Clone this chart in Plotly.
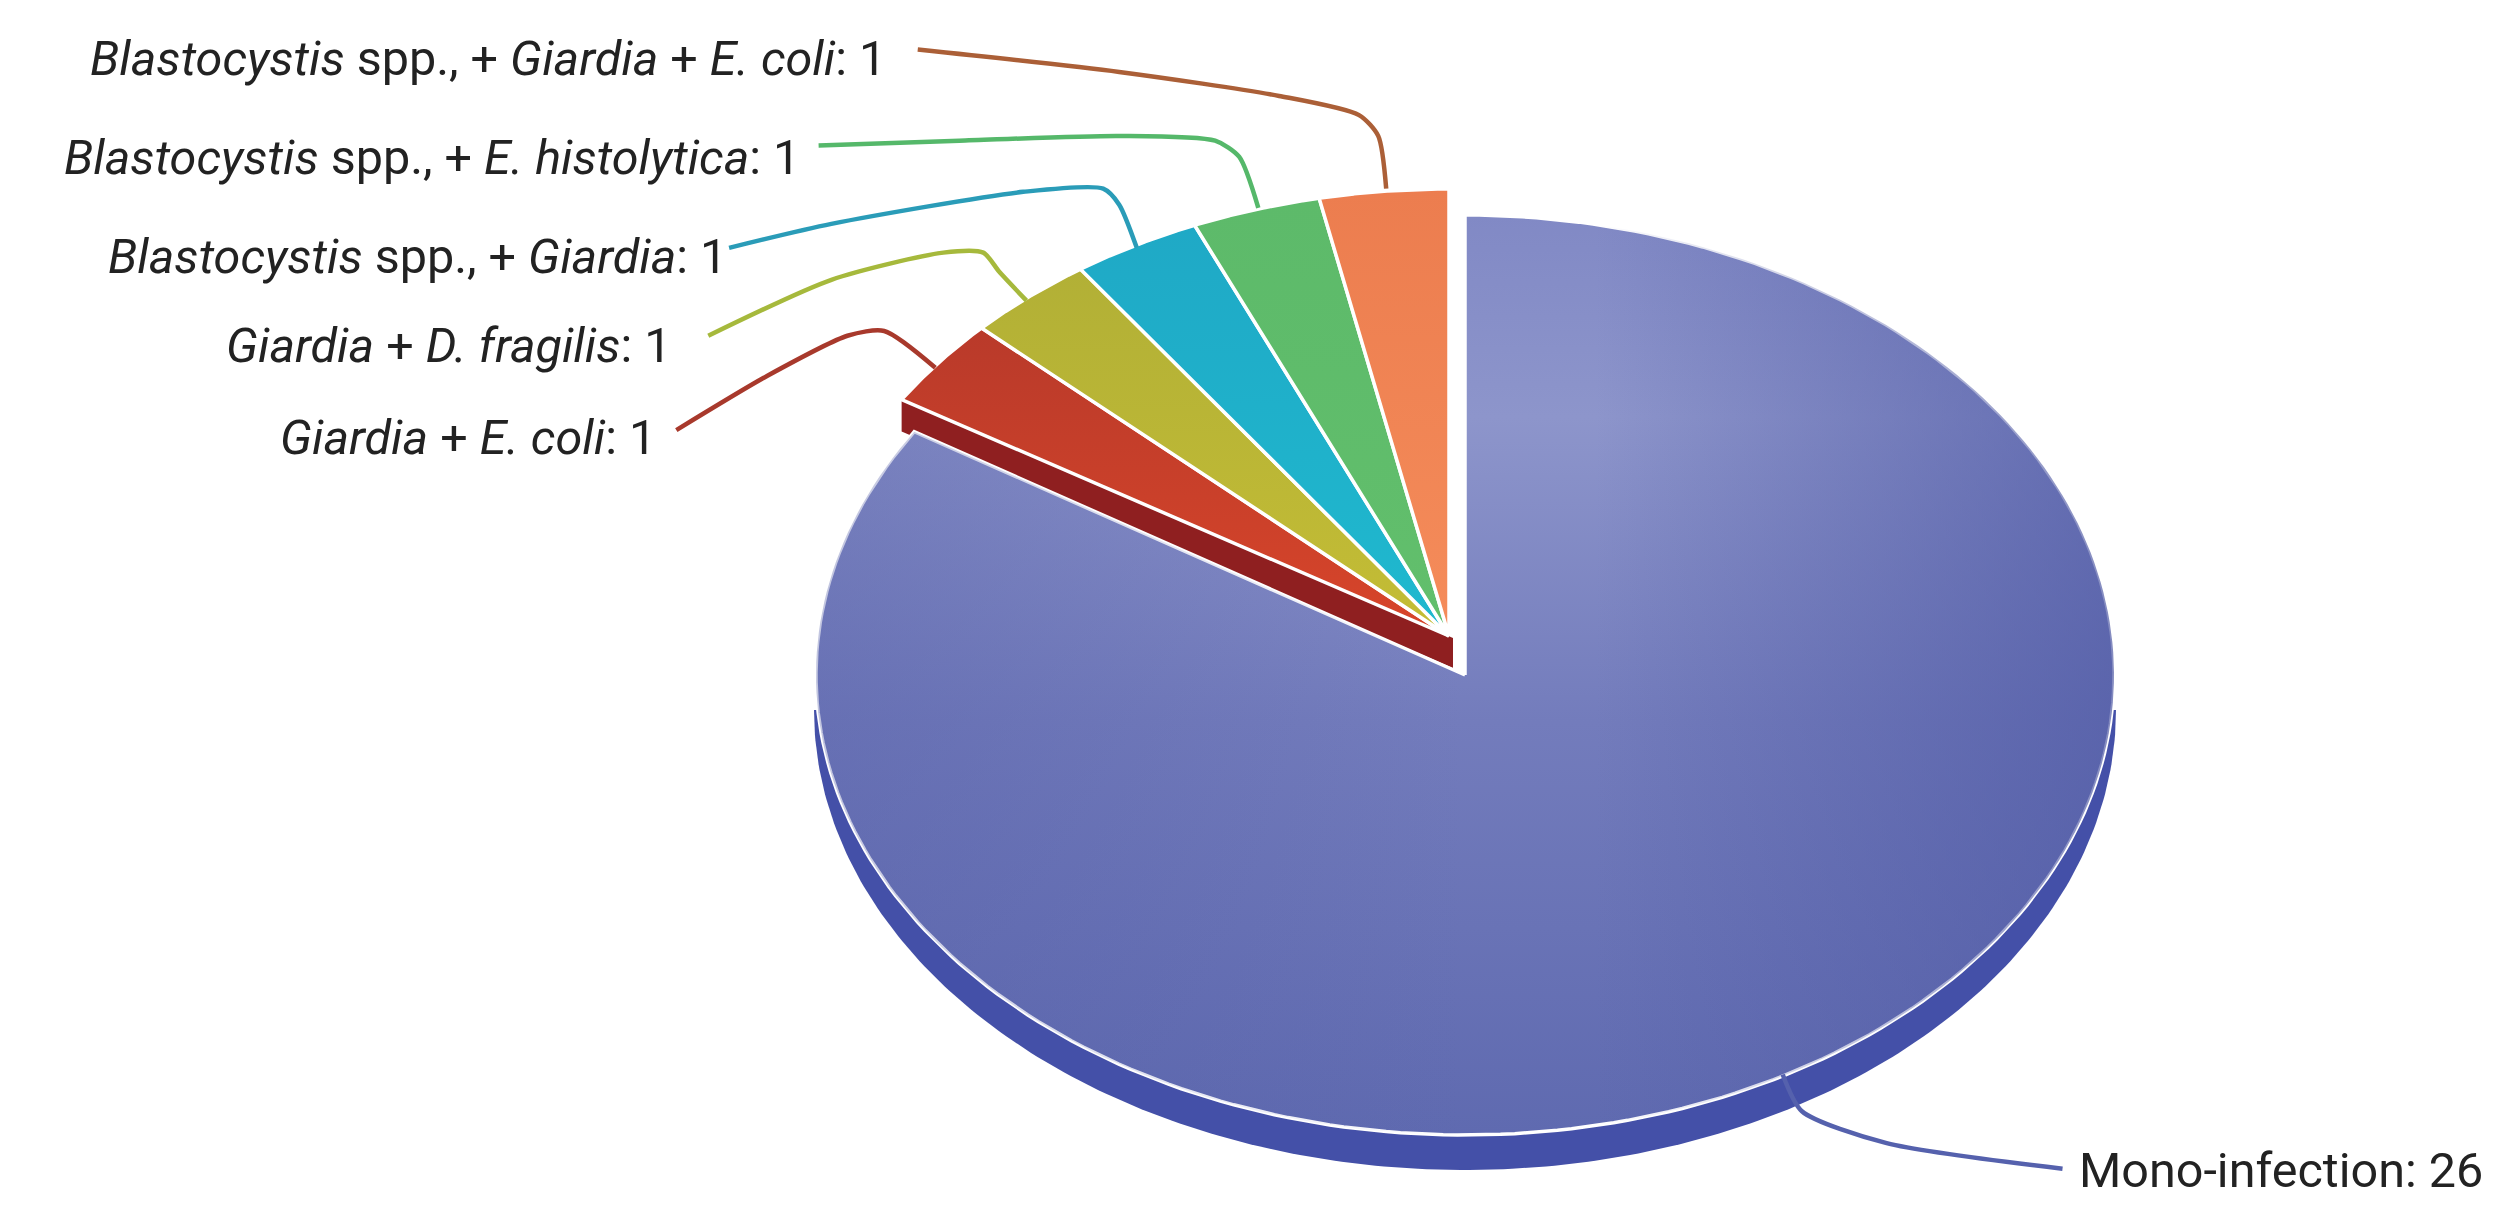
import numpy as np
import plotly.graph_objects as go

# ---- data
categories = ["Mono-infection", "Giardia + E. coli", "Giardia + D. fragilis",
              "Blastocystis spp., + Giardia", "Blastocystis spp., + E. histolytica",
              "Blastocystis spp., + Giardia + E. coli"]
values = [26, 1, 1, 1, 1, 1]
label_html = ["Mono-infection: 26",
              "<i>Giardia</i> + <i>E. coli</i>: 1",
              "<i>Giardia</i> + <i>D. fragilis</i>: 1",
              "<i>Blastocystis</i> spp., + <i>Giardia</i>: 1",
              "<i>Blastocystis</i> spp., + <i>E. histolytica</i>: 1",
              "<i>Blastocystis</i> spp., + <i>Giardia</i> + <i>E. coli</i>: 1"]
slice_top = ["#6f78bc", "#b93a2a", "#b2b036", "#1fa9c6", "#5dba6a", "#ec7d4f"]
slice_bot = ["#6f78bc", "#d8452a", "#c4bd35", "#1fb9cf", "#62bf6c", "#f58c5a"]
leader_col = ["#5561ad", "#a8392c", "#a6b93c", "#2a9cb8", "#55b86a", "#ab5f37"]

# ---- layout of the drawing (page pixels)
W, H = 2507, 1228
S = 2507 / 1568
main_c = (1465, 675); main_r = (649, 460)
rest_c = (1449, 636); rest_r = (645, 447)
rim_d = 35; wall_d = 32
label_pos = [(2079, 1170, "left"), (656, 437, "right"), (672, 345, "right"),
             (727, 256, "right"), (800, 157, "right"), (886, 58, "right")]
leaders = [
    [(1115, 672), (1127, 695), (1180, 715), (1290, 731)],
    [(423, 269), (480, 235), (530, 210), (553, 207), (585, 230)],
    [(443, 210), (520, 175), (590, 158), (615, 158), (625, 170), (642, 188)],
    [(456, 155), (520, 140), (640, 120), (690, 118), (700, 128), (711, 155)],
    [(512, 91), (600, 88), (700, 85), (760, 88), (775, 98), (787, 130)],
    [(574, 31), (700, 45), (800, 60), (850, 72), (862, 85), (867, 118)],
]


def arc(c, r, a0, a1, n=240, dy=0):
    t = np.radians(np.linspace(a0, a1, n))
    return c[0] + r[0] * np.sin(t), c[1] + dy - r[1] * np.cos(t)


def wedge(c, r, a0, a1):
    x, y = arc(c, r, a0, a1)
    return np.r_[c[0], x, c[0]], np.r_[c[1], y, c[1]]


fig = go.Figure()
ang = np.cumsum([0] + values) / sum(values) * 360

# rim under the main slice
x, y = arc(main_c, (main_r[0] + 2, main_r[1]), 90, 270, dy=rim_d)
fig.add_trace(go.Scatter(x=np.r_[x, x[0]], y=np.r_[y, y[0]], mode="lines", line=dict(width=0),
                         fill="toself", fillcolor="#4450a8", hoverinfo="skip", showlegend=False))

# side wall of the exploded group
tx, ty = arc(rest_c, rest_r, ang[1], ang[1], n=1)
wx = [tx[0], tx[0], rest_c[0] + 4, rest_c[0] + 4]
wy = [ty[0], ty[0] + wall_d, rest_c[1] + wall_d, rest_c[1] + 2]
fig.add_trace(go.Scatter(x=wx + wx[:1], y=wy + wy[:1], mode="lines", line=dict(width=0),
                         fill="toself", fillcolor="#8f1f20", hoverinfo="skip", showlegend=False))

# main slice, with layered shading (position 0 of a vertical scale is the bottom of the page)
x, y = wedge(main_c, main_r, ang[0], ang[1])
fig.add_trace(go.Scatter(x=x, y=y, mode="lines", line=dict(color="white", width=3.5),
                         fill="toself", name=categories[0], hoverinfo="name", showlegend=False,
                         fillgradient=dict(type="vertical",
                                           colorscale=[[0, "#5f6ab0"], [0.45, "#737cbc"], [0.78, "#8d95cb"],
                                                       [1, "#8189c5"]])))
fig.add_trace(go.Scatter(x=x, y=y, mode="lines", line=dict(width=0), hoverinfo="skip", showlegend=False,
                         fill="toself",
                         fillgradient=dict(type="horizontal",
                                           colorscale=[[0, "rgba(80,90,165,0.35)"], [0.5, "rgba(80,90,165,0)"],
                                                       [0.6, "rgba(80,90,165,0)"], [1, "rgba(80,90,165,0.7)"]])))

# the five small slices
for i in range(1, len(values)):
    x, y = wedge(rest_c, rest_r, ang[i], ang[i + 1])
    fig.add_trace(go.Scatter(x=x, y=y, mode="lines", line=dict(color="white", width=3.5),
                             fill="toself", name=categories[i], hoverinfo="name", showlegend=False,
                             fillgradient=dict(type="vertical",
                                               colorscale=[[0, slice_bot[i]], [1, slice_top[i]]])))

# leader lines
for pts, col in zip(leaders, leader_col):
    lx = [p[0] * S for p in pts]
    ly = [p[1] * S for p in pts]
    fig.add_trace(go.Scatter(x=lx, y=ly, mode="lines", line=dict(color=col, width=4.5, shape="spline", smoothing=0.7),
                             hoverinfo="skip", showlegend=False))

annotations = []
for txt, (px, py, anchor) in zip(label_html, label_pos):
    annotations.append(dict(x=px, y=py, xref="x", yref="y", text=txt, showarrow=False, xanchor=anchor,
                            yanchor="middle", align=anchor, borderpad=0, borderwidth=0,
                            font=dict(family="Roboto", size=48.5, color="#222222")))

fig.update_layout(width=W, height=H, margin=dict(l=0, r=0, t=0, b=0), paper_bgcolor="white", plot_bgcolor="white",
                  xaxis=dict(range=[0, W], visible=False, fixedrange=True),
                  yaxis=dict(range=[H, 0], visible=False, fixedrange=True),
                  annotations=annotations, showlegend=False)
fig.write_html("out.html", config=dict(displayModeBar=False),
               post_script="document.body.style.margin='0';document.body.style.overflow='hidden';")
